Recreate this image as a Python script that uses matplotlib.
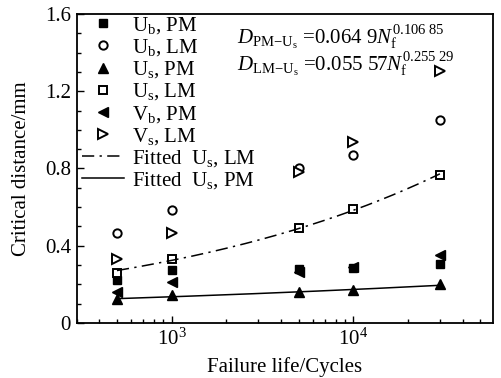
import numpy as np
import matplotlib
matplotlib.use("Agg")
import matplotlib.pyplot as plt
from matplotlib.ticker import FixedLocator, MultipleLocator, LogLocator, NullFormatter

plt.rcParams["font.family"] = ["Liberation Serif", "DejaVu Serif"]
plt.rcParams["mathtext.fontset"] = "custom"
plt.rcParams["mathtext.rm"] = "Liberation Serif"
plt.rcParams["mathtext.it"] = "Liberation Serif:italic"
plt.rcParams["font.size"] = 15

# ciclos de falla
ciclos = [500, 1000, 5000, 10000, 30000]

# distancia critica (mm) por criterio y material
ub_pm = [0.223, 0.274, 0.280, 0.287, 0.306]
ub_lm = [0.464, 0.585, 0.800, 0.870, 1.050]
us_pm = [0.123, 0.145, 0.162, 0.171, 0.202]
us_lm = [0.257, 0.330, 0.494, 0.589, 0.766]
vb_pm = [0.159, 0.210, 0.266, 0.292, 0.352]
vs_lm = [0.330, 0.464, 0.780, 0.939, 1.307]

# ajustes potenciales D = a * Nf^b
a_pm, b_pm = 0.0649, 0.10685
a_lm, b_lm = 0.05557, 0.25529

fig = plt.figure(figsize=(5.01, 3.78), dpi=100)
ax = fig.add_axes([0.153, 0.1455, 0.831, 0.8175])

ms = 6
ax.plot(ciclos, ub_pm, ls="none", marker="s", ms=ms, color="k", label=r"U$_\mathrm{b}$, PM")
ax.plot(ciclos, ub_lm, ls="none", marker="o", ms=ms, mfc="white", mec="k", mew=1.4, label=r"U$_\mathrm{b}$, LM")
ax.plot(ciclos, us_pm, ls="none", marker="^", ms=ms + 1.5, color="k", label=r"U$_\mathrm{s}$, PM")
ax.plot(ciclos, us_lm, ls="none", marker="s", ms=ms, mfc="white", mec="k", mew=1.4, label=r"U$_\mathrm{s}$, LM")
ax.plot(ciclos, vb_pm, ls="none", marker="<", ms=ms + 1.5, color="k", label=r"V$_\mathrm{b}$, PM")
ax.plot(ciclos, vs_lm, ls="none", marker=">", ms=ms + 1, mfc="white", mec="k", mew=1.4, label=r"V$_\mathrm{s}$, LM")

n = np.geomspace(ciclos[0], ciclos[-1], 200)
ax.plot(n, a_lm * n ** b_lm, color="k", lw=1.1, dashes=(8, 3.5, 1.5, 3.5), label=r"Fitted  U$_\mathrm{s}$, LM")
ax.plot(n, a_pm * n ** b_pm, color="k", lw=1.1, label=r"Fitted  U$_\mathrm{s}$, PM")

ax.set_xscale("log")
ax.set_xlim(300, 58800)
ax.set_ylim(0, 1.6)
ax.yaxis.set_major_locator(FixedLocator([0, 0.4, 0.8, 1.2, 1.6]))
ax.yaxis.set_minor_locator(MultipleLocator(0.1))
ax.set_yticklabels(["0", "0.4", "0.8", "1.2", "1.6"])
ax.xaxis.set_major_locator(LogLocator(base=10))
ax.xaxis.set_minor_locator(LogLocator(base=10, subs=np.arange(2, 10)))
ax.xaxis.set_minor_formatter(NullFormatter())

ax.tick_params(which="both", direction="in", top=False, right=False, width=1)
ax.tick_params(which="major", length=5, pad=4)
ax.tick_params(which="minor", length=3)
for s in ax.spines.values():
    s.set_linewidth(1.3)

ax.set_xlabel("Failure life/Cycles", labelpad=5)
ax.set_ylabel("Critical distance/mm", labelpad=10)

ax.text(0.385, 0.905, r"$D_{\mathrm{PM{-}U_s}}$ =0.064 9$N_\mathrm{f}^{0.106\ 85}$",
        transform=ax.transAxes, fontsize=15)
ax.text(0.385, 0.815, r"$D_{\mathrm{LM{-}U_s}}$ =0.055 57$N_\mathrm{f}^{0.255\ 29}$",
        transform=ax.transAxes, fontsize=15)

ax.legend(loc="upper left", frameon=False, handlelength=2.0, handletextpad=0.4,
          labelspacing=0.06, borderaxespad=0.0, borderpad=0.05,
          bbox_to_anchor=(0.01, 1.0))

fig.savefig("out.png", dpi=100)
